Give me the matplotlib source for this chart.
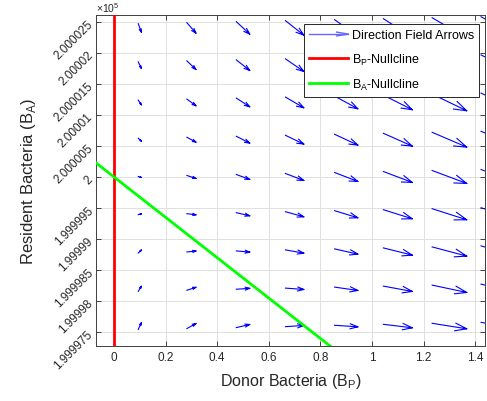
import numpy as np
import matplotlib.pyplot as plt
from matplotlib.lines import Line2D
from matplotlib.legend_handler import HandlerBase

plt.rcParams['font.family'] = ['Liberation Sans', 'DejaVu Sans']
plt.rcParams['mathtext.fontset'] = 'custom'
plt.rcParams['mathtext.rm'] = 'Liberation Sans'

# grid of arrow centres
bp_grid = [0.1, 0.3, 0.5, 0.7, 0.9, 1.1, 1.3, 1.5]
ba_grid = [200002.4, 200001.8, 200001.2, 200000.6, 200000.0,
           199999.4, 199998.8, 199998.2, 199997.6]

# arrow components (B_P units, B_A units)
u_cols = [0.012, 0.035, 0.052, 0.071, 0.090, 0.112, 0.134, 0.155]
v_table = [
    [-0.136, -0.168, -0.200, -0.232, -0.264, -0.296, -0.328, -0.360],
    [-0.106, -0.138, -0.170, -0.202, -0.234, -0.266, -0.298, -0.330],
    [-0.076, -0.108, -0.140, -0.172, -0.204, -0.236, -0.268, -0.300],
    [-0.046, -0.078, -0.110, -0.142, -0.174, -0.206, -0.238, -0.270],
    [-0.016, -0.048, -0.080, -0.112, -0.144, -0.176, -0.208, -0.240],
    [0.014, -0.018, -0.050, -0.082, -0.114, -0.146, -0.178, -0.210],
    [0.048, 0.014, -0.020, -0.052, -0.084, -0.116, -0.148, -0.180],
    [0.080, 0.048, 0.014, -0.022, -0.054, -0.086, -0.118, -0.150],
    [0.108, 0.080, 0.050, 0.020, -0.024, -0.056, -0.088, -0.120],
]

# nullclines
bp_null_x = [0, 0]
bp_null_y = [199997.0, 200003.0]
ba_null_x = [-0.1, 1.0]
ba_null_y = [200000.325, 199996.75]

ytick_vals = [199997.5, 199998.0, 199998.5, 199999.0, 199999.5, 200000.0,
              200000.5, 200001.0, 200001.5, 200002.0, 200002.5]
ytick_labels = ['1.999975', '1.99998', '1.999985', '1.99999', '1.999995', '2',
                '2.000005', '2.00001', '2.000015', '2.00002', '2.000025']
xtick_vals = [0, 0.2, 0.4, 0.6, 0.8, 1.0, 1.2, 1.4]
xtick_labels = ['0', '0.2', '0.4', '0.6', '0.8', '1', '1.2', '1.4']


class ArrowHandler(HandlerBase):
    def create_artists(self, legend, orig_handle, xdescent, ydescent,
                       width, height, fontsize, trans):
        y = height / 2 - ydescent
        x0, x1 = -xdescent, width - xdescent
        hl = 0.3 * width
        shaft = Line2D([x0, x1], [y, y], color=orig_handle.get_color(), lw=1.0)
        head = Line2D([x1 - hl, x1, x1 - hl], [y + 0.22 * height, y, y - 0.22 * height],
                      color=orig_handle.get_color(), lw=1.0)
        shaft.set_transform(trans)
        head.set_transform(trans)
        return [shaft, head]


fig = plt.figure(figsize=(4.87, 4.02), dpi=100)
ax = fig.add_axes([0.197, 0.137, 0.799, 0.822])
ax.set_xlim(-0.07, 1.438)
ax.set_ylim(199997.28, 200002.6)

# direction field, heads computed in screen space like matlab quiver
xs, ys = [], []
to_disp = ax.transData
to_data = ax.transData.inverted()
for i, ba in enumerate(ba_grid):
    for j, bp in enumerate(bp_grid):
        u = u_cols[j]
        v = v_table[i][j]
        tail = to_disp.transform((bp - u / 2, ba - v / 2))
        tip = to_disp.transform((bp + u / 2, ba + v / 2))
        d = tip - tail
        L = np.hypot(*d)
        if L == 0:
            continue
        e = d / L
        n = np.array([-e[1], e[0]])
        hl = 0.33 * L
        hw = 0.33 * hl
        b1 = tip - hl * e + hw * n
        b2 = tip - hl * e - hw * n
        pts = to_data.transform(np.array([tail, tip, b1, tip, b2]))
        xs += [pts[0, 0], pts[1, 0], np.nan, pts[2, 0], pts[3, 0], pts[4, 0], np.nan]
        ys += [pts[0, 1], pts[1, 1], np.nan, pts[2, 1], pts[3, 1], pts[4, 1], np.nan]
ax.plot(xs, ys, color=(0, 0, 1), lw=0.8, zorder=3)

ax.plot(bp_null_x, bp_null_y, color=(1, 0, 0), lw=2.0, zorder=4)
ax.plot(ba_null_x, ba_null_y, color=(0, 1, 0), lw=2.0, zorder=4)

ax.set_xticks(xtick_vals)
ax.set_xticklabels(xtick_labels)
ax.set_yticks(ytick_vals)
ax.set_yticklabels(ytick_labels, rotation=45, ha='right', va='center',
                   rotation_mode='anchor')
ax.tick_params(direction='in', length=3.5, width=0.6, colors='0.15',
               labelsize=8.5, top=True, right=True)
for s in ax.spines.values():
    s.set_color('0.25')
    s.set_linewidth(0.7)
ax.grid(True, color='0.88', lw=0.7)
ax.set_axisbelow(True)

ax.text(0.0, 1.004, r'$\times10^{5}$', transform=ax.transAxes, fontsize=7.5,
        color='0.15', ha='left', va='bottom')

ax.set_xlabel(r'Donor Bacteria (B$_\mathregular{P}$)', fontsize=11.5,
              color='0.15', labelpad=6)
ax.set_ylabel(r'Resident Bacteria (B$_\mathregular{A}$)', fontsize=12,
              color='0.15', labelpad=10)

arrow_proxy = Line2D([], [], color=(0.4, 0.4, 1.0))
red_proxy = Line2D([], [], color=(1, 0, 0), lw=2.0)
green_proxy = Line2D([], [], color=(0, 1, 0), lw=2.0)
leg = ax.legend([arrow_proxy, red_proxy, green_proxy],
                ['Direction Field Arrows', r'B$_\mathregular{P}$-Nullcline',
                 r'B$_\mathregular{A}$-Nullcline'],
                handler_map={arrow_proxy: ArrowHandler()},
                loc='upper right', bbox_to_anchor=(0.985, 0.973), fontsize=9,
                fancybox=False, framealpha=1, edgecolor='0.15',
                handlelength=3.1, labelspacing=0.8, borderpad=0.4,
                handletextpad=0.3, borderaxespad=0)
leg.get_frame().set_linewidth(0.7)

fig.savefig('out.png', dpi=100)
